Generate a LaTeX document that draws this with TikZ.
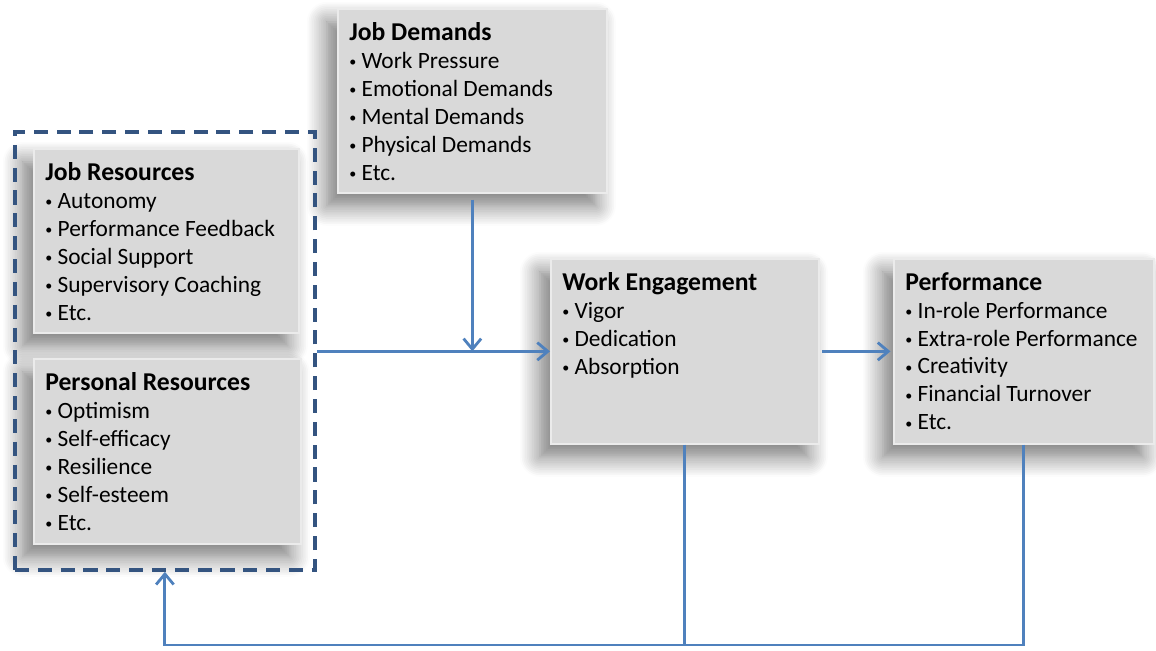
\documentclass[tikz,border=0pt]{standalone}
\usepackage{fontspec}
\setmainfont{Carlito}
\usetikzlibrary{positioning,arrows.meta,shadows.blur}
\definecolor{flowblue}{RGB}{79,129,189}
\definecolor{groupblue}{RGB}{52,84,128}
\definecolor{cardgray}{RGB}{217,217,217}
\newcommand{\bul}{\raisebox{0.15ex}{\footnotesize•}\hspace{3pt}}
\newcommand{\cardtitle}[1]{{\fontsize{14.6}{15.9}\selectfont\bfseries #1}}
\tikzset{
  card/.style={anchor=north west, fill=cardgray, draw=white!92!black, line width=1pt, inner sep=0pt,
    blur shadow={shadow xshift=-0.22cm, shadow yshift=-0.26cm, shadow blur radius=0.4cm, shadow opacity=55, shadow blur steps=12}},
  cardtext/.style={inner sep=0pt, align=left, font=\fontsize{13.3}{15.9}\selectfont},
  group/.style={anchor=north west, draw=groupblue, line width=2.2pt, dash pattern=on 8pt off 5pt, inner sep=0pt},
  link/.style={draw=flowblue, line width=1.6pt, -{Straight Barb[length=6pt,width=10pt]}},
}
\begin{document}
\begin{tikzpicture}[x=0.02cm,y=-0.02cm]
  \useasboundingbox (0,0) rectangle (1156,650);
  \node[card, minimum width=5.38cm, minimum height=3.68cm] (demands) at (337,8) {};
  \node[card, minimum width=5.30cm, minimum height=3.68cm] (jobres) at (33,148) {};
  \node[card, minimum width=5.34cm, minimum height=3.70cm] (persres) at (33,358) {};
  \node[card, minimum width=5.36cm, minimum height=3.70cm] (engagement) at (550,258) {};
  \node[card, minimum width=5.20cm, minimum height=3.70cm] (performance) at (893,258) {};
  \node[group, minimum width=6cm, minimum height=8.76cm] (resources) at (13,130) {};

  \node[cardtext, below right=0.28cm and 0.24cm of demands.north west] (demandstext)
    {\cardtitle{Job Demands}\\\bul Work Pressure\\\bul Emotional Demands\\\bul Mental Demands\\\bul Physical Demands\\\bul Etc.};
  \node[cardtext, below right=0.28cm and 0.24cm of jobres.north west] (jobrestext)
    {\cardtitle{Job Resources}\\\bul Autonomy\\\bul Performance Feedback\\\bul Social Support\\\bul Supervisory Coaching\\\bul Etc.};
  \node[cardtext, below right=0.28cm and 0.24cm of persres.north west] (persrestext)
    {\cardtitle{Personal Resources}\\\bul Optimism\\\bul Self-efficacy\\\bul Resilience\\\bul Self-esteem\\\bul Etc.};
  \node[cardtext, below right=0.28cm and 0.24cm of engagement.north west] (engagementtext)
    {\cardtitle{Work Engagement}\\\bul Vigor\\\bul Dedication\\\bul Absorption};
  \node[cardtext, below right=0.28cm and 0.24cm of performance.north west] (performancetext)
    {\cardtitle{Performance}\\\bul In-role Performance\\\bul Extra-role Performance\\\bul Creativity\\\bul Financial Turnover\\\bul Etc.};

  \coordinate (loop) at (0,645);
  \draw[link] (resources.east |- engagement.west) -- (engagement.west);
  \draw[link] ([yshift=-0.12cm]demands.south) -- (demands.south |- engagement.west);
  \draw[link] ([xshift=0.05cm]engagement.east) -- ([xshift=-0.05cm]performance.west);
  \draw[link] (engagement.south) -- (engagement.south |- loop) -| (resources.south);
  \draw[link, -] (performance.south) -- (performance.south |- loop) -- (engagement.south |- loop);
\end{tikzpicture}
\end{document}
